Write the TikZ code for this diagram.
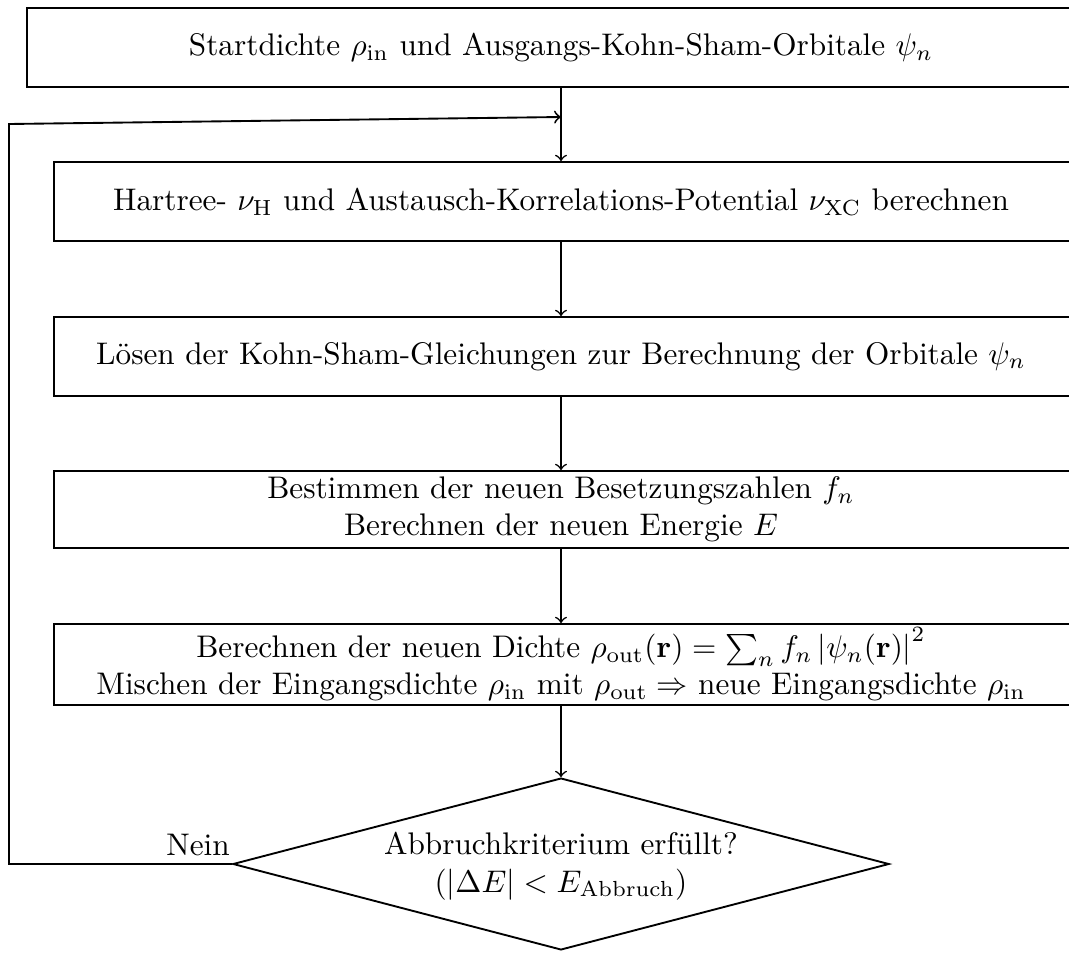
\documentclass[tikz,border=0pt]{standalone}
\usetikzlibrary{fit,shapes.geometric}
\begin{document}
\begin{tikzpicture}[x=0.32pt,y=-0.32pt,
  box/.style={draw, line width=0.6pt, inner sep=0pt},
  lbl/.style={inner sep=0pt, align=center},
  conn/.style={->, line width=0.5pt},
  loopline/.style={->, line width=0.6pt},
  decision/.style={draw, diamond, aspect=3.81, line width=0.6pt, inner sep=0pt,
    minimum width=210pt, minimum height=55pt, align=center}]
\clip (0,0) rectangle (1069,952);

% process boxes (they run on past the right edge)
\node[box, fit={(27,8) (1110,87)}] (b1) {};
\node[lbl] (t1) at (561,47.5) {Startdichte $\rho_{\mathrm{in}}$ und Ausgangs-Kohn-Sham-Orbitale $\psi_n$};

\node[box, fit={(54,162) (1110,241)}] (b2) {};
\node[lbl] (t2) at (561,201.5) {Hartree- $\nu_{\mathrm{H}}$ und Austausch-Korrelations-Potential $\nu_{\mathrm{XC}}$ berechnen};

\node[box, fit={(54,317) (1110,396)}] (b3) {};
\node[lbl] (t3) at (561,356.5) {L\"osen der Kohn-Sham-Gleichungen zur Berechnung der Orbitale $\psi_n$};

\node[box, fit={(54,471) (1110,548)}] (b4) {};
\node[lbl] (t4) at (561,509.5) {Bestimmen der neuen Besetzungszahlen $f_n$\\
  Berechnen der neuen Energie $E$};

\node[box, fit={(54,624) (1110,705)}] (b5) {};
\node[lbl] (t5) at (561,664.5) {Berechnen der neuen Dichte $\rho_{\mathrm{out}}(\mathbf{r}) = \sum_n f_n \left|\psi_n(\mathbf{r})\right|^2$\\
  Mischen der Eingangsdichte $\rho_{\mathrm{in}}$ mit $\rho_{\mathrm{out}} \Rightarrow$ neue Eingangsdichte $\rho_{\mathrm{in}}$};

% decision
\node[decision] (d) at (561,864) {};
\node[lbl] (td) at (561,866) {Abbruchkriterium erf\"ullt?\\ $(|\Delta E| < E_{\mathrm{Abbruch}})$};

% main flow
\draw[conn] (b1.south -| t1) -- (b2.north -| t1);
\draw[conn] (b2.south -| t2) -- (b3.north -| t2);
\draw[conn] (b3.south -| t3) -- (b4.north -| t3);
\draw[conn] (b4.south -| t4) -- (b5.north -| t4);
\draw[conn] (b5.south -| t5) -- (d.north);

% feedback loop
\coordinate (j) at (561,117);
\coordinate (c1) at (9,864);
\coordinate (c2) at (9,124);
\draw[loopline] (d.west) -- (c1) -- (c2) -- (j);
\node[lbl, anchor=base] (no) at (198,855) {Nein};
\end{tikzpicture}
\end{document}
